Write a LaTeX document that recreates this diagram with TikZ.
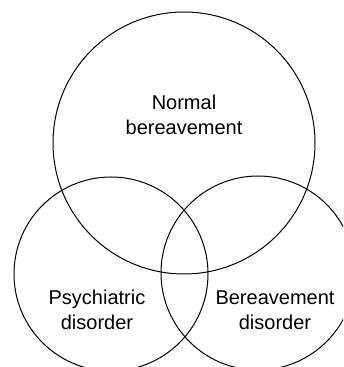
\documentclass[tikz,border=0pt]{standalone}
\usepackage{fontspec}
\setmainfont{Liberation Sans}
\begin{document}
\begin{tikzpicture}[x=1pt,y=1pt]
\tikzset{set/.style = {shape=circle, draw, line width=1pt, inner sep=0pt}}
\tikzset{setlabel/.style = {align=center, font=\fontsize{20}{25.5}\selectfont}}
\useasboundingbox (0,0) rectangle (343,367);
\clip (0,0) rectangle (343,367);
\node[set, minimum size=262pt](normal) at (184,224) {};
\node[set, minimum size=194pt](psych) at (111,93) {};
\node[set, minimum size=194pt](bereav) at (258,94) {};
\node[setlabel](normaltext) at (184,252) {Normal\\bereavement};
\node[setlabel](psychtext) at (97,57) {Psychiatric\\disorder};
\node[setlabel](bereavtext) at (275,57) {Bereavement\\disorder};
\end{tikzpicture}
\end{document}
